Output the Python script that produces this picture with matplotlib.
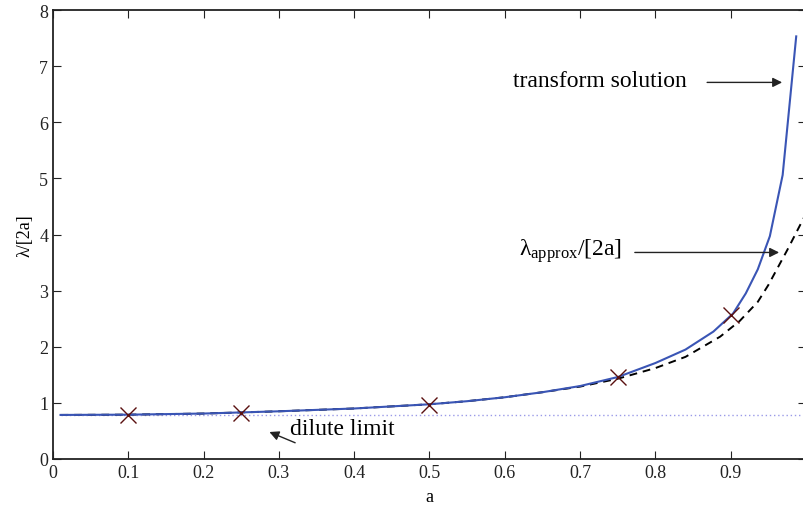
import matplotlib
matplotlib.use("Agg")
import matplotlib.pyplot as plt
import numpy as np

plt.rcParams['font.family'] = ['Liberation Serif', 'DejaVu Serif']
plt.rcParams['mathtext.fontset'] = 'custom'
plt.rcParams['mathtext.rm'] = 'Liberation Serif'
plt.rcParams['mathtext.it'] = 'Liberation Serif'

# transform solution (blue)
a_sol = [0.01, 0.1, 0.2, 0.3, 0.4, 0.5, 0.55, 0.6, 0.65, 0.7, 0.75, 0.8, 0.84,
         0.877, 0.903, 0.92, 0.936, 0.952, 0.969, 0.987]
lam_sol = [0.785, 0.79, 0.81, 0.85, 0.90, 0.975, 1.03, 1.10, 1.19, 1.30, 1.46, 1.71, 1.95,
           2.27, 2.59, 2.95, 3.38, 3.97, 5.06, 7.53]

# approximation (black dashed)
a_app = [0.01, 0.1, 0.2, 0.3, 0.4, 0.5, 0.55, 0.6, 0.65, 0.7, 0.75, 0.8, 0.84,
         0.886, 0.912, 0.936, 0.95, 0.975, 0.998]
lam_app = [0.785, 0.79, 0.81, 0.85, 0.90, 0.975, 1.03, 1.10, 1.19, 1.29, 1.43, 1.62, 1.82,
           2.18, 2.46, 2.80, 3.10, 3.72, 4.32]

# markers
a_mark = [0.1, 0.25, 0.5, 0.75, 0.9]
lam_mark = [0.79, 0.82, 0.96, 1.46, 2.57]

# dilute limit
a_dil = [0.01, 1.0]
lam_dil = [0.785, 0.785]

fig = plt.figure(figsize=(8.04, 5.06), dpi=100)
ax = fig.add_axes([53/804, 46/506, 753/804, 449/506])

ax.plot(a_dil, lam_dil, linestyle=(0, (1, 2)), color='#9a9ae8', lw=1.0)
ax.plot(a_app, lam_app, linestyle=(0, (4, 3)), color='black', lw=1.4)
ax.plot(a_sol, lam_sol, color='#3a55b5', lw=1.5)
ax.plot(a_mark, lam_mark, linestyle='none', marker='x', markersize=12,
        markeredgewidth=1.0, color='#5a1010')

ax.set_xlim(0, 1)
ax.set_ylim(0, 8)
ax.set_xticks(np.arange(0, 1.0, 0.1))
ax.set_xticklabels(['0', '0.1', '0.2', '0.3', '0.4', '0.5', '0.6', '0.7', '0.8', '0.9'])
ax.set_yticks(range(0, 9))
ax.tick_params(direction='in', top=True, right=True, length=6, width=0.8,
               labelsize=13, colors='#222222')
for s in ax.spines.values():
    s.set_linewidth(1.3)
    s.set_color('#222222')

ax.set_xlabel('a', fontsize=13, labelpad=5)
ax.set_ylabel(r'λ/[2a]', fontsize=13, labelpad=4)

arrow = dict(arrowstyle='-|>', color='#222222', lw=1.0, mutation_scale=14)
ax.annotate('', xy=(0.972, 6.71), xytext=(0.865, 6.71), arrowprops=arrow)
ax.text(0.611, 6.75, 'transform solution', fontsize=17, ha='left', va='center')

ax.annotate('', xy=(0.968, 3.68), xytext=(0.769, 3.68), arrowprops=arrow)
ax.text(0.756, 3.72, r'$\mathrm{\lambda_{approx}}$/[2a]', fontsize=17, ha='right', va='center')

ax.annotate('', xy=(0.284, 0.50), xytext=(0.325, 0.27), arrowprops=arrow)
ax.text(0.315, 0.55, 'dilute limit', fontsize=17, ha='left', va='center')

fig.savefig('out.png', dpi=100)
